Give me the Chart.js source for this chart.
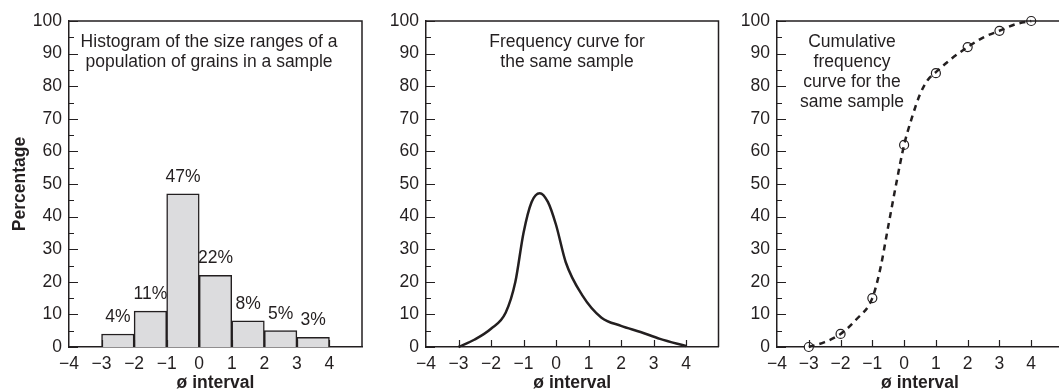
<!DOCTYPE html>
<html>
<head>
<meta charset="utf-8">
<script src="https://cdn.jsdelivr.net/npm/chart.js@4/dist/chart.umd.min.js"></script>
<style>
  html, body { margin: 0; padding: 0; background: #fff; overflow: hidden; width: 1059px; height: 390px; }
  canvas { position: absolute; top: 0; }
</style>
</head>
<body>
<canvas id="c1" width="372" height="390" style="left:0px"></canvas>
<canvas id="c2" width="358" height="390" style="left:372px"></canvas>
<canvas id="c3" width="340" height="390" style="left:730px"></canvas>
<script>
// histogram: phi interval centres and percentages
var binCentres = [-2.5, -1.5, -0.5, 0.5, 1.5, 2.5, 3.5];
var binPercent = [4, 11, 47, 22, 8, 5, 3];

// frequency curve
var freqX = [-3, -2.5, -2, -1.55, -1.25, -1, -0.75, -0.5, -0.25, 0, 0.3, 0.8, 1.4, 2, 2.6, 3.2, 4];
var freqY = [0, 2.3, 5.6, 10.5, 20, 35, 44.5, 47.2, 44.5, 37.5, 26, 16, 9, 6.5, 4.6, 2.5, 0.3];

// cumulative curve (dashed) and the plotted points
var cumCurveX = [-3, -2.5, -2, -1.5, -1, -0.75, -0.5, -0.25, 0, 0.25, 0.5, 0.75, 1, 1.5, 2, 2.5, 3, 3.5, 4];
var cumCurveY = [0, 1.5, 4, 8.5, 15, 24, 37, 50, 62, 70.5, 77.5, 82, 84.3, 88.5, 92, 95, 97, 99, 100];
var cumPointX = [-3, -2, -1, 0, 1, 2, 3, 4];
var cumPointY = [0, 4, 15, 62, 84, 92, 97, 100];

var xTickValues = [-3, -2, -1, 0, 1, 2, 3, 4];
var yTickValues = [0, 5, 10, 15, 20, 25, 30, 35, 40, 45, 50, 55, 60, 65, 70, 75, 80, 85, 90, 95, 100];

var ink = "#231f20";
var fontFamily = "'Liberation Sans', Arial, sans-serif";
var fontSize = 17.5;
Chart.defaults.font.family = fontFamily;
Chart.defaults.color = ink;

function pts(xs, ys) {
  return xs.map(function (x, i) { return { x: x, y: ys[i] }; });
}

// frame + inward tick marks + note text
function framePlugin(noteLines, noteDx) {
  return {
    id: "frame",
    afterDraw: function (chart) {
      var ctx = chart.ctx, a = chart.chartArea;
      var xs = chart.scales.x, ys = chart.scales.y;
      ctx.save();
      ctx.strokeStyle = ink;
      ctx.lineWidth = 1.5;
      ctx.beginPath();
      ctx.moveTo(a.left, a.top);
      ctx.lineTo(a.right, a.top);
      ctx.lineTo(a.right, a.bottom);
      ctx.stroke();
      ctx.lineWidth = 1.2;
      ctx.beginPath();
      yTickValues.forEach(function (v) {
        var py = Math.round(ys.getPixelForValue(v)) + 0.5;
        var len = v % 10 === 0 ? 9 : 5;
        ctx.moveTo(a.left, py);
        ctx.lineTo(a.left + len, py);
      });
      xTickValues.forEach(function (v) {
        var px = Math.round(xs.getPixelForValue(v)) + 0.5;
        ctx.moveTo(px, a.bottom);
        ctx.lineTo(px, a.bottom - 7);
      });
      ctx.stroke();
      ctx.fillStyle = ink;
      ctx.font = fontSize + "px " + fontFamily;
      ctx.textAlign = "center";
      ctx.textBaseline = "middle";
      noteLines.forEach(function (t, i) {
        ctx.fillText(t, a.left + noteDx, a.top + 21 + i * 20);
      });
      ctx.restore();
    }
  };
}

var barLabelPlugin = {
  id: "barLabels",
  afterDatasetsDraw: function (chart) {
    var ctx = chart.ctx;
    var meta = chart.getDatasetMeta(0);
    ctx.save();
    ctx.fillStyle = ink;
    ctx.font = fontSize + "px " + fontFamily;
    ctx.textAlign = "center";
    ctx.textBaseline = "middle";
    meta.data.forEach(function (bar, i) {
      ctx.fillText(binPercent[i] + "%", bar.x, bar.y - 17);
    });
    ctx.restore();
  }
};

function scales(yWidth, showYTitle, xMax) {
  return {
    x: {
      type: "linear",
      min: -4,
      max: xMax,
      offset: false,
      grid: { display: false, drawTicks: false },
      border: { display: true, color: ink, width: 1.5 },
      ticks: {
        stepSize: 1,
        padding: 7,
        maxRotation: 0,
        autoSkip: false,
        font: { size: fontSize },
        callback: function (v) {
          if (v > 4 || v !== Math.round(v)) return "";
          return v < 0 ? "\u2212" + Math.abs(v) : String(v);
        }
      },
      title: {
        display: true,
        text: "\u00f8 interval",
        font: { size: 17.5, weight: "bold", lineHeight: 0.8 },
        padding: { top: 0, bottom: 0 }
      },
      afterFit: function (s) { s.height = 43; }
    },
    y: {
      min: 0,
      max: 100,
      grid: { display: false, drawTicks: false },
      border: { display: true, color: ink, width: 1.5 },
      ticks: { stepSize: 10, padding: 7, font: { size: fontSize } },
      title: {
        display: showYTitle,
        text: "Percentage",
        font: { size: 17.5, weight: "bold", lineHeight: 1 },
        padding: { top: 11, bottom: 0 }
      },
      afterFit: function (s) { s.width = yWidth; }
    }
  };
}

var common = {
  responsive: false,
  animation: false,
  events: [],
  plugins: { legend: { display: false }, tooltip: { enabled: false } }
};

new Chart(document.getElementById("c1"), {
  type: "bar",
  data: {
    datasets: [{
      data: pts(binCentres, binPercent),
      backgroundColor: "#dcdcde",
      borderColor: ink,
      borderWidth: 1.5,
      barPercentage: 1,
      categoryPercentage: 1
    }]
  },
  options: Object.assign({}, common, {
    layout: { padding: { top: 21, right: 10, bottom: 0, left: 0 } },
    scales: scales(69, true, 5)
  }),
  plugins: [framePlugin(["Histogram of the size ranges of a", "population of grains in a sample"], 140), barLabelPlugin]
});

new Chart(document.getElementById("c2"), {
  type: "scatter",
  data: {
    datasets: [{
      data: pts(freqX, freqY),
      showLine: true,
      borderColor: ink,
      borderWidth: 2.5,
      pointRadius: 0,
      cubicInterpolationMode: "monotone",
      clip: false
    }]
  },
  options: Object.assign({}, common, {
    layout: { padding: { top: 21, right: 11.5, bottom: 0, left: 0 } },
    scales: scales(54, false, 5)
  }),
  plugins: [framePlugin(["Frequency curve for", "the same sample"], 141)]
});

new Chart(document.getElementById("c3"), {
  type: "scatter",
  data: {
    datasets: [{
      data: pts(cumCurveX, cumCurveY),
      showLine: true,
      borderColor: ink,
      borderWidth: 2.5,
      borderDash: [6, 5],
      pointRadius: 0,
      cubicInterpolationMode: "monotone",
      clip: false
    }, {
      data: pts(cumPointX, cumPointY),
      showLine: false,
      pointRadius: 4.5,
      pointBackgroundColor: "#fff",
      pointBorderColor: ink,
      pointBorderWidth: 1.2,
      clip: false
    }]
  },
  options: Object.assign({}, common, {
    layout: { padding: { top: 21, right: 0.5, bottom: 0, left: 0 } },
    scales: scales(47, false, 5)
  }),
  plugins: [framePlugin(["Cumulative", "frequency", "curve for the", "same sample"], 75)]
});
</script>
</body>
</html>
